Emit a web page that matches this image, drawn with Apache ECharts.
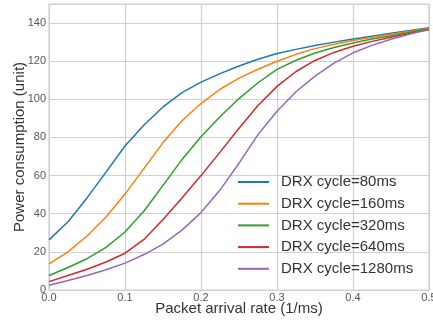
<!DOCTYPE html>
<html>
<head>
<meta charset="utf-8">
<script src="https://cdn.jsdelivr.net/npm/echarts@6/dist/echarts.min.js"></script>
<style>html,body{margin:0;padding:0;background:#fff}#c{width:433px;height:326px}</style>
</head>
<body>
<div id="c"></div>
<script>
const xValues = [0, 0.025, 0.05, 0.075, 0.1, 0.125, 0.15, 0.175, 0.2, 0.225, 0.25, 0.275, 0.3, 0.325, 0.35, 0.375, 0.4, 0.425, 0.45, 0.475, 0.5];
const drx80   = [26.3, 35.8, 48.3, 61.8, 75.5, 86.5, 96, 103.5, 109, 113.5, 117.5, 121, 124, 126.2, 128.2, 130, 131.6, 133.1, 134.6, 136.1, 137.6];
const drx160  = [13.7, 20, 28.3, 38.3, 50.3, 63.8, 77.3, 88.8, 97.8, 105.3, 111.1, 115.8, 120, 123.6, 126.6, 128.9, 130.8, 132.5, 134.1, 135.7, 137.3];
const drx320  = [7.6, 11.8, 16.4, 22.4, 30.4, 41.4, 54.9, 68.4, 80.4, 90.9, 100.4, 108.7, 115.7, 120.5, 124.3, 127.2, 129.6, 131.6, 133.4, 135.2, 137];
const drx640  = [4.4, 7.6, 10.9, 14.7, 19.3, 26.5, 37, 48.3, 60, 72.3, 84.8, 96.8, 106.8, 114.6, 120.4, 124.6, 127.8, 130.4, 132.6, 134.6, 136.5];
const drx1280 = [2.5, 5, 7.6, 10.6, 14.1, 18.6, 24.1, 31.4, 40.6, 52.4, 66.5, 81.5, 93.8, 104, 112.2, 119, 124.4, 128.3, 131.5, 134.2, 136.7];
const seriesNames = ['DRX cycle=80ms', 'DRX cycle=160ms', 'DRX cycle=320ms', 'DRX cycle=640ms', 'DRX cycle=1280ms'];
const seriesData = [drx80, drx160, drx320, drx640, drx1280];
const colors = ['#1f77b4', '#ff7f0e', '#2ca02c', '#d62728', '#9467bd'];

const chart = echarts.init(document.getElementById('c'), null, {renderer: 'canvas'});
const font = 'Liberation Sans, Arial, sans-serif';
chart.setOption({
  animation: false,
  backgroundColor: '#fff',
  color: colors,
  textStyle: {fontFamily: font},
  grid: {left: 49, right: 4, top: 4, bottom: 36, containLabel: false, outerBoundsMode: 'none',
         show: true, borderColor: '#d0d0d0', borderWidth: 1.2},
  xAxis: {
    type: 'value', min: 0, max: 0.5, interval: 0.1,
    name: 'Packet arrival rate (1/ms)', nameLocation: 'middle', nameGap: 11, nameMoveOverlap: false,
    nameTextStyle: {fontSize: 15, color: '#333', fontFamily: font, verticalAlign: 'top'},
    axisLine: {show: false}, axisTick: {show: false},
    axisLabel: {fontSize: 11, color: '#555', margin: 2, formatter: v => v.toFixed(1)},
    splitLine: {show: true, lineStyle: {color: '#d0d0d0', width: 1.2}}
  },
  yAxis: {
    type: 'value', min: 0, max: 150, interval: 20,
    name: 'Power consumption (unit)', nameLocation: 'middle', nameGap: 22, nameMoveOverlap: false,
    nameTextStyle: {fontSize: 15, color: '#333', fontFamily: font},
    axisLine: {show: false}, axisTick: {show: false},
    axisLabel: {fontSize: 11, color: '#555', margin: 3, showMaxLabel: false},
    splitLine: {show: true, lineStyle: {color: '#d0d0d0', width: 1.2}}
  },
  legend: {
    orient: 'vertical', left: 233, top: 169,
    icon: 'rect', itemWidth: 31, itemHeight: 2, itemGap: 5.7,
    textStyle: {fontSize: 15, color: '#333', fontFamily: font, padding: [0, 0, 0, 7], lineHeight: 16},
    data: seriesNames
  },
  series: seriesNames.map((n, i) => ({
    name: n, type: 'line', showSymbol: false, smooth: false,
    lineStyle: {width: 1.5, color: colors[i]},
    itemStyle: {color: colors[i]},
    data: xValues.map((x, j) => [x, seriesData[i][j]])
  }))
});
</script>
</body>
</html>
